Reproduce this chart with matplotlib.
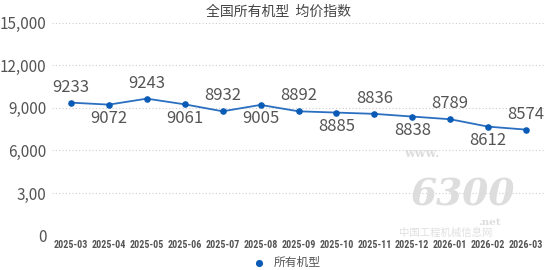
import matplotlib
matplotlib.use('Agg')
import matplotlib.pyplot as plt

plt.rcParams['font.family'] = ['Noto Sans CJK SC', 'DejaVu Sans']

# 月份
months = ['2025-03', '2025-04', '2025-05', '2025-06', '2025-07', '2025-08', '2025-09',
          '2025-10', '2025-11', '2025-12', '2026-01', '2026-02', '2026-03']
# 点的位置
values = [9370, 9230, 9650, 9250, 8760, 9210, 8760, 8670, 8580, 8390, 8200, 7680, 7470]
# 标注的数字
labels = ['9233', '9072', '9243', '9061', '8932', '9005', '8892',
          '8885', '8836', '8838', '8789', '8612', '8574']
# y 轴刻度
yticks = [0, 3000, 6000, 9000, 12000, 15000]
ytick_labels = ['0', '3,00', '6,000', '9,000', '12,000', '15,000']

fig = plt.figure(figsize=(5.5, 2.7), dpi=100)
ax = fig.add_axes([0.0945, 0.127, 0.8965, 0.789])

x = list(range(len(months)))
ax.plot(x, values, color='#2a6fc0', lw=1.3, zorder=3)
ax.scatter(x, values, s=14, color='#0a5bb5', zorder=4, label='所有机型')

for i, (v, t) in enumerate(zip(values, labels)):
    # 交替放在点的上方和下方
    if i % 2 == 0:
        ax.annotate(t, (i, v), xytext=(0, 5), textcoords='offset points',
                    ha='center', va='bottom', fontsize=12, color='#555555')
    else:
        ax.annotate(t, (i, v), xytext=(0, -4), textcoords='offset points',
                    ha='center', va='top', fontsize=12, color='#555555')

ax.set_xlim(-0.5, 12.5)
ax.set_ylim(0, 15000)
ax.set_yticks(yticks)
ax.set_yticklabels(ytick_labels, fontsize=11, color='#555555')
ax.set_xticks(x)
ax.set_xticklabels(months, family=['Roboto Condensed', 'Liberation Sans Narrow', 'Roboto'],
                   fontweight='bold', fontsize=7.2, color='#555555')
ax.tick_params(axis='both', length=0, pad=3)
ax.tick_params(axis='y', pad=4)

ax.grid(axis='y', linestyle=(0, (1, 2)), color='#cccccc', lw=0.8)
ax.set_axisbelow(True)
for s in ax.spines.values():
    s.set_visible(False)

fig.text(0.507, 0.955, '全国所有机型  均价指数', ha='center', va='center',
         fontsize=10, color='#444444')

ax.legend(loc='center', bbox_to_anchor=(0.47, -0.125), frameon=False,
          fontsize=8.5, handletextpad=0.2, markerscale=1.1, borderpad=0.1,
          labelcolor='#555555')

# 水印
fig.text(0.735, 0.42, 'www.', fontsize=9, color='#dddddd', family='DejaVu Serif',
         fontweight='bold')
fig.text(0.745, 0.24, '6300', fontsize=27, color='#dddddd', family='DejaVu Serif',
         style='italic', fontweight='bold')
fig.text(0.87, 0.168, '.net', fontsize=7.5, color='#dddddd', family='DejaVu Serif',
         fontweight='bold')
fig.text(0.725, 0.125, '中国工程机械信息网', fontsize=7.5, color='#e0e0e0')

fig.savefig('out.png', dpi=100)
